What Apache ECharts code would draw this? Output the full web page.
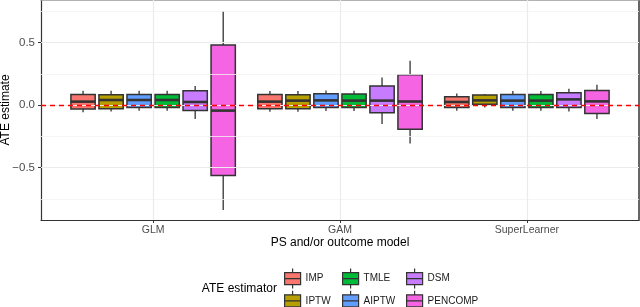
<!DOCTYPE html>
<html><head><meta charset="utf-8">
<script src="https://cdn.jsdelivr.net/npm/echarts@6/dist/echarts.min.js"></script>
<style>html,body{margin:0;padding:0;background:#fff}#c{width:640px;height:307px}</style>
</head><body><div id="c"></div>
<script>
// ---- data ----
const categories = ['GLM', 'GAM', 'SuperLearner'];
const estimators = ['IMP', 'IPTW', 'AIPTW', 'TMLE', 'DSM', 'PENCOMP'];
const colors = ['#F8766D', '#B79F00', '#619CFF', '#00BA38', '#C77CFF', '#F564E3'];
// each row: [min, Q1, median, Q3, max] for GLM, GAM, SuperLearner
const IMP     = [[-0.058, -0.031, 0.027, 0.084, 0.114], [-0.053, -0.030, 0.027, 0.085, 0.112], [-0.045, -0.020, 0.024, 0.066, 0.093]];
const IPTW    = [[-0.052, -0.029, 0.040, 0.083, 0.115], [-0.053, -0.030, 0.035, 0.083, 0.112], [-0.020, 0.007, 0.037, 0.081, 0.089]];
const AIPTW   = [[-0.045, -0.019, 0.040, 0.085, 0.115], [-0.048, -0.019, 0.037, 0.090, 0.117], [-0.045, -0.019, 0.035, 0.085, 0.112]];
const TMLE    = [[-0.045, -0.019, 0.040, 0.085, 0.115], [-0.048, -0.019, 0.035, 0.088, 0.115], [-0.045, -0.019, 0.035, 0.085, 0.112]];
const DSM     = [[-0.112, -0.043, 0.024, 0.115, 0.152], [-0.152, -0.061, 0.035, 0.152, 0.221], [-0.051, -0.019, 0.045, 0.099, 0.131]];
const PENCOMP = [[-0.840, -0.563, -0.045, 0.480, 0.752], [-0.307, -0.193, 0.028, 0.243, 0.355], [-0.112, -0.067, 0.029, 0.117, 0.163]];
const seriesValues = [IMP, IPTW, AIPTW, TMLE, DSM, PENCOMP];
const yTicks = [-0.5, 0, 0.5];
const yMinor = [-0.75, -0.25, 0.25, 0.75];
const legendColumns = [['IMP', 'IPTW'], ['TMLE', 'AIPTW'], ['DSM', 'PENCOMP']];
const referenceValue = 0;

// ---- chart ----
const FONT = 'Liberation Sans, Arial, sans-serif';
const chart = echarts.init(document.getElementById('c'), null, {renderer: 'canvas'});
const n = estimators.length;
const dodge = 0.15, boxW = 0.13;

function makeRender(k) {
  const off = (k - (n - 1) / 2) * dodge;
  const fill = colors[k];
  return function (params, api) {
    const x = api.value(0) + off;
    const lo = api.coord([x, api.value(1)]);
    const q1 = api.coord([x, api.value(2)]);
    const md = api.coord([x, api.value(3)]);
    const q3 = api.coord([x, api.value(4)]);
    const hi = api.coord([x, api.value(5)]);
    const w = api.size([boxW, 0])[0];
    const cx = lo[0];
    const ls = {stroke: '#333333', lineWidth: 1.3};
    return {type: 'group', children: [
      {type: 'line', shape: {x1: cx, y1: hi[1], x2: cx, y2: q3[1]}, style: ls},
      {type: 'line', shape: {x1: cx, y1: q1[1], x2: cx, y2: lo[1]}, style: ls},
      {type: 'rect', shape: {x: cx - w / 2, y: q3[1], width: w, height: q1[1] - q3[1]},
        style: {fill: fill, stroke: '#333333', lineWidth: 1.5}},
      {type: 'line', shape: {x1: cx - w / 2, y1: md[1], x2: cx + w / 2, y2: md[1]},
        style: {stroke: '#333333', lineWidth: 2.6}}
    ]};
  };
}

const series = estimators.map((name, k) => ({
  name: name,
  type: 'custom',
  z: 3,
  itemStyle: {color: colors[k]},
  renderItem: makeRender(k),
  encode: {x: 0, y: [1, 2, 3, 4, 5]},
  data: seriesValues[k].map((v, i) => [i].concat(v))
}));

const gridLines = [];
yTicks.forEach(v => gridLines.push({yAxis: v, lineStyle: {color: '#EBEBEB', width: 1.2, type: 'solid'}}));
yMinor.forEach(v => gridLines.push({yAxis: v, lineStyle: {color: '#F2F2F2', width: 0.8, type: 'solid'}}));
categories.forEach((c, i) => gridLines.push({xAxis: i, lineStyle: {color: '#EBEBEB', width: 1.2, type: 'solid'}}));

series.unshift({
  name: '_grid', type: 'line', z: 1, data: [], silent: true,
  markLine: {silent: true, symbol: ['none', 'none'], label: {show: false}, animation: false, data: gridLines}
});
series.push({
  name: '_ref', type: 'line', z: 10, data: [], silent: true,
  markLine: {silent: true, symbol: ['none', 'none'], label: {show: false}, animation: false,
    data: [{yAxis: referenceValue, lineStyle: {color: '#FF0000', width: 1.4, type: [5, 4]}}]}
});

const keyIcon = 'path://M8,0 L8,4 M0,4 L16,4 L16,16 L0,16 Z M0,10 L16,10 M8,16 L8,20';
const legendLeft = [284, 342, 406];

chart.setOption({
  animation: false,
  textStyle: {fontFamily: FONT},
  grid: {left: 41, right: 1, top: 0, bottom: 87, containLabel: false, outerBoundsMode: 'none'},
  xAxis: [{
    type: 'value', min: -0.6, max: 2.6, position: 'bottom',
    axisLine: {show: true, onZero: false, lineStyle: {color: '#333333', width: 1.2}},
    axisTick: {show: true, customValues: [0, 1, 2], length: 3, lineStyle: {color: '#333333', width: 1}},
    axisLabel: {customValues: [0, 1, 2], formatter: v => categories[Math.round(v)], color: '#4D4D4D', fontSize: 10.5, margin: 5, fontFamily: FONT},
    splitLine: {show: false},
    name: 'PS and/or outcome model', nameLocation: 'middle', nameGap: 17, nameMoveOverlap: false,
    nameTextStyle: {fontSize: 12, color: '#000', fontFamily: FONT}
  }, {
    type: 'value', min: -0.6, max: 2.6, position: 'top',
    axisLine: {show: true, onZero: false, lineStyle: {color: '#999999', width: 1.5}},
    axisTick: {show: false}, axisLabel: {show: false}, splitLine: {show: false}
  }],
  yAxis: [{
    type: 'value', min: -0.92, max: 0.84,
    axisLine: {show: true, onZero: false, lineStyle: {color: '#333333', width: 1.2}},
    axisTick: {show: true, customValues: yTicks, length: 3, lineStyle: {color: '#333333', width: 1}},
    axisLabel: {customValues: yTicks, formatter: v => (v < 0 ? '\u2212' : '') + Math.abs(v).toFixed(1), color: '#4D4D4D', fontSize: 11.5, margin: 6, fontFamily: FONT},
    splitLine: {show: false},
    name: 'ATE estimate', nameLocation: 'middle', nameGap: 29, nameRotate: 90, nameMoveOverlap: false,
    nameTextStyle: {fontSize: 12, color: '#000', fontFamily: FONT}
  }, {
    type: 'value', min: -0.92, max: 0.84, position: 'right',
    axisLine: {show: true, onZero: false, lineStyle: {color: '#333333', width: 1.5}},
    axisTick: {show: false}, axisLabel: {show: false}, splitLine: {show: false}
  }],
  legend: legendColumns.map((col, j) => ({
    orient: 'vertical', left: legendLeft[j], top: 268, height: 60, padding: 0,
    itemWidth: 16, itemHeight: 20, itemGap: 1, selectedMode: false,
    itemStyle: {borderColor: '#333333', borderWidth: 1.2},
    textStyle: {fontSize: 10, color: '#1A1A1A', fontFamily: FONT},
    data: col.map(name => ({name: name, icon: keyIcon}))
  })),
  graphic: [{
    type: 'text', x: 277, y: 289,
    style: {text: 'ATE estimator', textAlign: 'right', textVerticalAlign: 'middle', font: '12px ' + FONT, fill: '#000'}
  }],
  series: series
});
</script></body></html>
